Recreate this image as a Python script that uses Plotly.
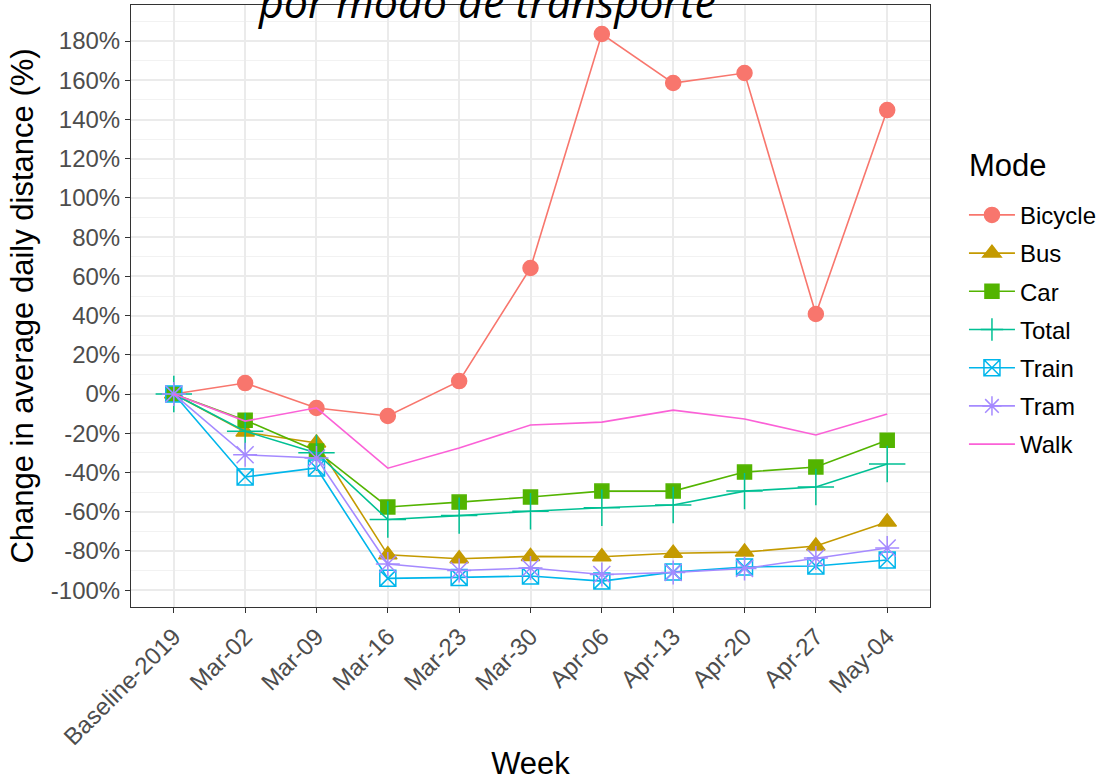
import plotly.graph_objects as go

weeks = ["Baseline-2019", "Mar-02", "Mar-09", "Mar-16", "Mar-23", "Mar-30",
         "Apr-06", "Apr-13", "Apr-20", "Apr-27", "May-04"]

bicycle = [0, 5.6, -7.1, -11.2, 6.6, 64.3, 183.6, 158.6, 163.7, 40.8, 144.8]
bus     = [0, -19.4, -25.0, -82.0, -84.0, -82.8, -83.0, -81.2, -80.6, -77.5, -65.3]
car     = [0, -13.3, -29.0, -57.6, -55.1, -52.5, -49.5, -49.5, -39.8, -37.2, -23.5]
total   = [0, -19.0, -30.0, -64.0, -62.0, -59.8, -58.0, -56.6, -49.5, -47.4, -35.7]
train   = [0, -42.3, -37.7, -94.0, -93.5, -92.8, -95.4, -90.8, -88.2, -87.7, -84.6]
tram    = [0, -31.0, -32.6, -86.7, -90.0, -88.7, -92.0, -91.0, -89.0, -83.6, -78.5]
walk    = [0, -13.8, -7.0, -37.8, -27.5, -15.8, -14.3, -8.2, -12.7, -20.9, -10.2]

y_tickvals = [-100, -80, -60, -40, -20, 0, 20, 40, 60, 80, 100, 120, 140, 160, 180]
y_ticktext = ["-100%", "-80%", "-60%", "-40%", "-20%", "0%", "20%", "40%", "60%",
              "80%", "100%", "120%", "140%", "160%", "180%"]

modes = ["Bicycle", "Bus", "Car", "Total", "Train", "Tram", "Walk"]
series = [bicycle, bus, car, total, train, tram, walk]
colors = ["#F8766D", "#C49A00", "#53B400", "#00C094", "#00B6EB", "#A58AFF", "#FB61D7"]
symbols = ["circle", "triangle-up", "square", "cross-thin", "square-x-open", "asterisk-open", None]
sizes = [15, 16, 14, 26, 16, 20, 0]

FONT = "Liberation Sans, Arial, sans-serif"

fig = go.Figure()
for name, ys, col, sym, sz in zip(modes, series, colors, symbols, sizes):
    if sym is None:
        fig.add_trace(go.Scatter(x=weeks, y=ys, name=name, mode="lines",
                                 line=dict(color=col, width=1.6), legendgroup=name))
    else:
        fig.add_trace(go.Scatter(x=weeks, y=ys, name=name, mode="lines+markers",
                                 line=dict(color=col, width=1.6),
                                 marker=dict(symbol=sym, size=sz, color=col,
                                             line=dict(color=col, width=1.5)),
                                 legendgroup=name))

fig.add_shape(type="line", xref="paper", x0=0, x1=1, yref="y", y0=0, y1=0,
              line=dict(color="#7F7F7F", width=2), layer="below")

fig.add_annotation(text="por modo de transporte", xref="paper", yref="paper",
                   x=0.446, y=1, xanchor="center", yanchor="bottom", yshift=-28,
                   showarrow=False,
                   font=dict(family="Open Sans, sans-serif", size=43, color="black",
                             style="italic"))

fig.add_annotation(text="Mode", xref="paper", yref="paper",
                   x=1.0463, y=0.7342, xanchor="left", yanchor="middle",
                   showarrow=False, font=dict(size=31, color="black"))

fig.update_layout(
    width=1103, height=781,
    margin=dict(l=131, r=173, t=5, b=174, autoexpand=False),
    paper_bgcolor="white", plot_bgcolor="white",
    font=dict(family=FONT, color="black"),
    showlegend=True,
    legend=dict(font=dict(size=24, color="black"),
                x=1.0425, xanchor="left", y=0.688, yanchor="top",
                tracegroupgap=4, itemwidth=46, bgcolor="rgba(0,0,0,0)"),
    xaxis=dict(
        type="category", range=[-0.6, 10.6],
        showgrid=True, gridcolor="#EBEBEB", gridwidth=1.5,
        showline=True, mirror=True, linecolor="#333333", linewidth=1,
        ticks="outside", ticklen=5, tickcolor="#333333", tickwidth=1,
        tickangle=-45, tickfont=dict(size=24, color="#4D4D4D"),
        title=dict(text="Week", font=dict(size=31, color="black"), standoff=4),
        zeroline=False,
    ),
    yaxis=dict(
        range=[-108.6, 198.4],
        tickvals=y_tickvals, ticktext=y_ticktext,
        showgrid=True, gridcolor="#EBEBEB", gridwidth=1.5,
        minor=dict(dtick=10, tick0=0, showgrid=True, gridcolor="#F2F2F2", gridwidth=1),
        showline=True, mirror=True, linecolor="#333333", linewidth=1,
        ticks="outside", ticklen=5, tickcolor="#333333", tickwidth=1,
        tickfont=dict(size=24, color="#4D4D4D"),
        title=dict(text="Change in average daily distance (%)",
                   font=dict(size=31, color="black"), standoff=7),
        zeroline=False,
    ),
)

fig.write_html("out.html", config={"displayModeBar": False},
               post_script="document.body.style.margin='0px';document.body.style.overflow='hidden';")
